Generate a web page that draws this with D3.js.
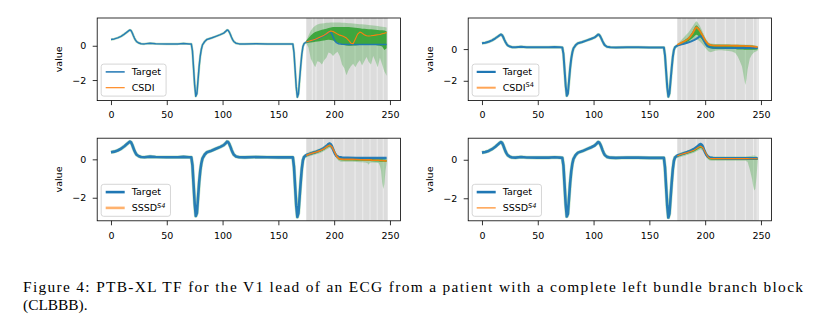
<!DOCTYPE html>
<html>
<head>
<meta charset="utf-8">
<script src="https://cdn.jsdelivr.net/npm/d3@7"></script>
<style>
  body { margin: 0; background: #fff; }
  svg text { font-family: "DejaVu Sans", sans-serif; fill: #000; }
  svg .caption { font-family: "Liberation Serif", "DejaVu Serif", serif; }
</style>
</head>
<body>
<div id="figure"></div>
<script>
const FIG_W = 820;
const FIG_H = 322;
const PANEL_W = 303.2;
const PANEL_H = 82.6;
const BLUE = "#1f77b4";
const ORANGE = "#ff7f0e";
const GREEN = "#2ca02c";

const X_DOMAIN = [-12.35, 259.35];
const X_TICKS = [0, 50, 100, 150, 200, 250];
const Y_TICKS = [0, -2];
const MASK_START = 175;
const MASK_END = 248;
const SEAMS_LEFT = [180.4, 183.7, 190.3, 199.2, 208.8, 218.7, 225.6, 232.1, 238.6, 244.0];
const SEAMS_RIGHT = [179, 183.6, 192, 200.5, 209.5, 218, 227, 236, 243.3, 246.6];

// V1 lead, shared ground truth
const TARGET_T = [0, 3, 6, 9, 12, 14, 16, 17, 18, 19, 20, 21, 22, 23, 25, 27, 30, 35, 40, 50, 60, 65, 70, 72,
  73, 74, 75, 76, 77, 78, 79, 80, 81, 82, 84, 86, 90, 94, 98, 101, 103, 104, 105, 106, 107, 108, 109, 110,
  112, 115, 120, 130, 140, 150, 160, 163, 164, 165, 166, 167, 168, 169, 170, 171, 172, 173, 175, 178, 181,
  184, 187, 190, 192, 194, 195, 196, 197, 198, 199, 200, 201, 202, 204, 207, 212, 220, 230, 240, 247];
const TARGET_V = [0.37, 0.40, 0.46, 0.55, 0.68, 0.78, 0.88, 0.92, 0.88, 0.76, 0.60, 0.45, 0.33, 0.24, 0.16, 0.12, 0.11, 0.14, 0.12, 0.11, 0.11, 0.13, 0.11, 0.10,
  -0.30, -1.30, -2.30, -2.95, -2.80, -2.00, -1.20, -0.60, -0.20, 0.05, 0.25, 0.37, 0.45, 0.55, 0.65, 0.74, 0.85, 0.92, 0.90, 0.80, 0.66, 0.50, 0.36, 0.25,
  0.15, 0.11, 0.10, 0.12, 0.11, 0.10, 0.10, 0.10, -0.40, -1.40, -2.40, -3.00, -2.80, -2.00, -1.20, -0.50, -0.05, 0.12, 0.22, 0.28, 0.34,
  0.40, 0.47, 0.56, 0.64, 0.74, 0.80, 0.82, 0.78, 0.68, 0.52, 0.38, 0.26, 0.18, 0.12, 0.09, 0.08, 0.07, 0.07, 0.07, 0.07];

// CSDI
const CSDI_T = [175, 177, 179, 181, 183, 185, 187, 189, 191, 193, 195, 197, 199, 201, 203, 205, 207, 209, 211, 213, 215,
  217, 219, 221, 223, 225, 227, 229, 231, 233, 235, 237, 239, 241, 243, 245, 247];
const CSDI_MED = [0.22, 0.26, 0.30, 0.34, 0.38, 0.44, 0.50, 0.56, 0.62, 0.70, 0.80, 0.86, 0.83, 0.76, 0.68, 0.62, 0.58, 0.52, 0.45, 0.32, 0.15,
  0.12, 0.40, 0.68, 0.80, 0.74, 0.64, 0.58, 0.57, 0.58, 0.60, 0.62, 0.64, 0.66, 0.70, 0.73, 0.78];
const CSDI_Q25 = [0.15, 0.17, 0.19, 0.21, 0.23, 0.25, 0.27, 0.29, 0.31, 0.33, 0.35, 0.33, 0.30, 0.24, 0.18, 0.13, 0.08, 0.05, 0.02, 0.00, 0.00,
  0.01, 0.02, 0.03, 0.05, 0.05, 0.05, 0.05, 0.05, 0.05, 0.05, 0.04, 0.02, 0.00, -0.05, -0.25, -0.15];
const CSDI_Q75 = [0.30, 0.45, 0.60, 0.72, 0.80, 0.85, 0.89, 0.93, 0.96, 1.00, 1.04, 1.07, 1.10, 1.10, 1.10, 1.10, 1.10, 1.10, 1.10, 1.09, 1.08,
  1.07, 1.05, 1.04, 1.02, 1.00, 0.99, 0.98, 0.97, 0.96, 0.95, 0.94, 0.92, 0.91, 0.90, 0.89, 0.85];
const CSDI_Q05 = [0.15, -0.10, -0.75, -1.00, -1.25, -0.90, -0.95, -1.10, -0.85, -0.70, -0.40, -0.45, -0.60, -0.45, -0.35, -0.60, -1.10, -1.30, -1.72, -1.40, -1.20,
  -1.05, -1.25, -1.00, -0.85, -1.15, -0.90, -0.65, -0.95, -1.10, -0.60, -0.90, -1.25, -0.70, -1.10, -1.50, -1.75];
const CSDI_Q95 = [0.29, 0.60, 0.87, 1.05, 1.17, 1.24, 1.28, 1.30, 1.32, 1.34, 1.35, 1.36, 1.36, 1.36, 1.36, 1.36, 1.35, 1.34, 1.33, 1.32, 1.31,
  1.30, 1.28, 1.27, 1.26, 1.25, 1.24, 1.22, 1.21, 1.20, 1.18, 1.17, 1.15, 1.13, 1.11, 1.09, 1.07];

// CSDI^S4
const CSDIS4_T = [175, 177, 179, 181, 183, 185, 187, 189, 191, 192, 193, 195, 197, 199, 201, 203, 205, 207, 209, 212, 215,
  218, 221, 224, 227, 229, 231, 233, 234, 235, 236, 237, 238, 240, 242, 244, 247];
const CSDIS4_MED = [0.27, 0.34, 0.41, 0.48, 0.56, 0.66, 0.82, 1.02, 1.28, 1.38, 1.34, 1.18, 0.94, 0.68, 0.45, 0.30, 0.25, 0.23, 0.22, 0.22, 0.22,
  0.22, 0.22, 0.22, 0.21, 0.21, 0.20, 0.20, 0.20, 0.20, 0.19, 0.19, 0.19, 0.18, 0.17, 0.16, 0.12];
const CSDIS4_Q25 = [0.22, 0.28, 0.33, 0.38, 0.43, 0.50, 0.60, 0.72, 0.85, 0.90, 0.88, 0.78, 0.62, 0.42, 0.22, 0.10, 0.05, 0.02, 0.00, 0.00, 0.00,
  0.00, 0.00, 0.00, 0.00, -0.02, -0.02, -0.03, -0.03, -0.04, -0.05, -0.05, -0.05, -0.05, -0.05, -0.05, -0.02];
const CSDIS4_Q75 = [0.30, 0.38, 0.46, 0.54, 0.63, 0.74, 0.92, 1.14, 1.42, 1.50, 1.46, 1.30, 1.05, 0.78, 0.52, 0.35, 0.30, 0.28, 0.27, 0.27, 0.27,
  0.27, 0.27, 0.26, 0.26, 0.26, 0.25, 0.25, 0.25, 0.25, 0.24, 0.24, 0.24, 0.23, 0.22, 0.20, 0.15];
const CSDIS4_Q05 = [0.15, 0.20, 0.25, 0.30, 0.35, 0.42, 0.50, 0.55, 0.60, 0.62, 0.60, 0.50, 0.35, 0.18, 0.00, -0.15, -0.20, -0.15, -0.10, -0.08, -0.08,
  -0.10, -0.12, -0.15, -0.25, -0.45, -0.75, -1.10, -1.50, -1.90, -2.27, -1.90, -1.30, -0.60, -0.35, -0.20, -0.10];
const CSDIS4_Q95 = [0.32, 0.45, 0.60, 0.75, 0.90, 1.05, 1.25, 1.45, 1.68, 1.75, 1.70, 1.50, 1.20, 0.88, 0.60, 0.42, 0.35, 0.33, 0.32, 0.32, 0.31,
  0.31, 0.31, 0.30, 0.30, 0.30, 0.30, 0.29, 0.29, 0.29, 0.28, 0.28, 0.28, 0.27, 0.26, 0.25, 0.20];

// SSSD^S4, first run
const SSSD_A_T = [175, 178, 181, 184, 187, 190, 192, 194, 196, 198, 200, 202, 204, 206, 209, 212, 216, 220, 224, 228, 230,
  231, 232, 234, 238, 240, 241, 242, 243, 244, 245, 246, 247];
const SSSD_A_MED = [0.20, 0.28, 0.33, 0.38, 0.44, 0.52, 0.60, 0.68, 0.74, 0.65, 0.42, 0.18, 0.05, 0.01, 0.00, 0.00, 0.00, -0.01, -0.02, -0.03, -0.03,
  -0.03, -0.03, -0.04, -0.05, -0.05, -0.06, -0.06, -0.06, -0.07, -0.07, -0.08, -0.08];
const SSSD_A_Q25 = [0.15, 0.22, 0.27, 0.32, 0.38, 0.46, 0.54, 0.61, 0.67, 0.58, 0.35, 0.12, -0.01, -0.05, -0.06, -0.06, -0.06, -0.07, -0.08, -0.09, -0.09,
  -0.09, -0.09, -0.10, -0.11, -0.11, -0.12, -0.12, -0.12, -0.13, -0.13, -0.14, -0.14];
const SSSD_A_Q75 = [0.25, 0.34, 0.39, 0.44, 0.50, 0.58, 0.66, 0.75, 0.81, 0.72, 0.49, 0.24, 0.11, 0.07, 0.06, 0.06, 0.06, 0.05, 0.04, 0.03, 0.03,
  0.03, 0.03, 0.02, 0.01, 0.01, 0.00, 0.00, 0.00, -0.01, -0.01, -0.02, -0.02];
const SSSD_A_Q05 = [0.10, 0.16, 0.21, 0.26, 0.32, 0.40, 0.47, 0.54, 0.60, 0.50, 0.28, 0.05, -0.08, -0.12, -0.13, -0.13, -0.13, -0.14, -0.15, -0.16, -0.20,
  -0.28, -0.18, -0.17, -0.18, -0.20, -0.35, -0.60, -1.20, -1.55, -1.30, -0.60, -0.20];
const SSSD_A_Q95 = [0.30, 0.40, 0.45, 0.50, 0.56, 0.65, 0.74, 0.83, 0.89, 0.80, 0.56, 0.30, 0.17, 0.13, 0.12, 0.12, 0.12, 0.11, 0.10, 0.09, 0.09,
  0.09, 0.09, 0.08, 0.07, 0.07, 0.06, 0.06, 0.06, 0.05, 0.05, 0.04, 0.04];

// SSSD^S4, second run
const SSSD_B_T = [175, 178, 181, 184, 187, 190, 192, 194, 196, 198, 200, 202, 204, 206, 209, 212, 216, 220, 224, 228, 232,
  236, 238, 240, 241, 242, 243, 244, 245, 246, 247];
const SSSD_B_MED = [0.20, 0.27, 0.32, 0.37, 0.43, 0.50, 0.57, 0.65, 0.70, 0.62, 0.40, 0.18, 0.08, 0.06, 0.06, 0.06, 0.06, 0.06, 0.06, 0.06, 0.06,
  0.06, 0.06, 0.05, 0.05, 0.05, 0.05, 0.05, 0.05, 0.05, 0.05];
const SSSD_B_Q25 = [0.15, 0.21, 0.26, 0.31, 0.37, 0.43, 0.50, 0.57, 0.62, 0.54, 0.32, 0.11, 0.02, 0.00, 0.00, 0.00, 0.00, 0.00, 0.00, 0.00, 0.00,
  0.00, -0.01, -0.01, -0.01, -0.01, -0.01, -0.01, -0.01, -0.01, -0.01];
const SSSD_B_Q75 = [0.25, 0.33, 0.38, 0.43, 0.49, 0.57, 0.64, 0.72, 0.77, 0.69, 0.47, 0.25, 0.14, 0.12, 0.12, 0.12, 0.12, 0.12, 0.12, 0.12, 0.12,
  0.12, 0.12, 0.11, 0.11, 0.11, 0.11, 0.11, 0.11, 0.11, 0.11];
const SSSD_B_Q05 = [0.10, 0.15, 0.20, 0.25, 0.31, 0.37, 0.43, 0.50, 0.55, 0.46, 0.25, 0.04, -0.04, -0.05, -0.05, -0.05, -0.05, -0.05, -0.05, -0.05, -0.05,
  -0.05, -0.10, -0.50, -0.75, -1.00, -1.35, -1.60, -1.50, -0.90, -0.10];
const SSSD_B_Q95 = [0.30, 0.38, 0.43, 0.48, 0.55, 0.63, 0.71, 0.79, 0.84, 0.76, 0.54, 0.32, 0.20, 0.17, 0.17, 0.17, 0.17, 0.17, 0.17, 0.17, 0.17,
  0.17, 0.18, 0.19, 0.20, 0.21, 0.22, 0.22, 0.21, 0.18, 0.14];

const PANELS = [
  { left: 97.2, top: 18, yDomain: [-3.2, 1.62], name: "CSDI", sup: null, supItalic: false, seams: SEAMS_LEFT,
    t: CSDI_T, med: CSDI_MED, q05: CSDI_Q05, q25: CSDI_Q25, q75: CSDI_Q75, q95: CSDI_Q95,
    blueW: 1.5, orangeW: 1.1, orangeOp: 1, legBlueW: 1.5, legOrangeW: 1.1, legOrangeOp: 1 },
  { left: 468.2, top: 18, yDomain: [-3.25, 1.96], name: "CSDI", sup: "S4", supItalic: false, seams: SEAMS_RIGHT,
    t: CSDIS4_T, med: CSDIS4_MED, q05: CSDIS4_Q05, q25: CSDIS4_Q25, q75: CSDIS4_Q75, q95: CSDIS4_Q95,
    blueW: 2, orangeW: 1.8, orangeOp: 0.9, legBlueW: 2.2, legOrangeW: 2, legOrangeOp: 0.7 },
  { left: 97.2, top: 138.2, yDomain: [-3.2, 1.1], name: "SSSD", sup: "S4", supItalic: true, seams: SEAMS_LEFT,
    t: SSSD_A_T, med: SSSD_A_MED, q05: SSSD_A_Q05, q25: SSSD_A_Q25, q75: SSSD_A_Q75, q95: SSSD_A_Q95,
    blueW: 2.6, orangeW: 1.6, orangeOp: 0.9, legBlueW: 2.6, legOrangeW: 2.6, legOrangeOp: 0.6 },
  { left: 468.2, top: 138.2, yDomain: [-3.17, 1.12], name: "SSSD", sup: "S4", supItalic: true, seams: SEAMS_RIGHT,
    t: SSSD_B_T, med: SSSD_B_MED, q05: SSSD_B_Q05, q25: SSSD_B_Q25, q75: SSSD_B_Q75, q95: SSSD_B_Q95,
    blueW: 2.6, orangeW: 1.1, orangeOp: 1, legBlueW: 2.6, legOrangeW: 1.1, legOrangeOp: 1 }
];

const CAPTION = [
  "Figure 4: PTB-XL TF for the V1 lead of an ECG from a patient with a complete left bundle branch block",
  "(CLBBB)."
];

const svg = d3.select("#figure").append("svg")
  .attr("width", FIG_W)
  .attr("height", FIG_H);

const target = TARGET_T.map((t, k) => ({ t: t, v: TARGET_V[k] }));

PANELS.forEach((p, i) => {
  const x = d3.scaleLinear().domain(X_DOMAIN).range([0, PANEL_W]);
  const y = d3.scaleLinear().domain(p.yDomain).range([PANEL_H, 0]);

  const g = svg.append("g").attr("transform", `translate(${p.left},${p.top})`);
  g.append("clipPath").attr("id", `clip-${i}`)
    .append("rect").attr("width", PANEL_W).attr("height", PANEL_H);
  const plot = g.append("g").attr("clip-path", `url(#clip-${i})`);

  // masked window, drawn as adjoining spans
  plot.append("rect")
    .attr("x", x(MASK_START))
    .attr("width", x(MASK_END) - x(MASK_START))
    .attr("height", PANEL_H)
    .attr("fill", "#dcdcdc");
  plot.selectAll(".seam")
    .data(p.seams)
    .join("line")
    .attr("class", "seam")
    .attr("x1", d => x(d)).attr("x2", d => x(d))
    .attr("y1", 0).attr("y2", PANEL_H)
    .attr("stroke", "#efefef")
    .attr("stroke-width", 0.9);

  const rows = p.t.map((t, k) => ({
    t: t, med: p.med[k], q05: p.q05[k], q25: p.q25[k], q75: p.q75[k], q95: p.q95[k]
  }));
  const band = (lo, hi) => d3.area().x(d => x(d.t)).y0(d => y(d[lo])).y1(d => y(d[hi]));

  plot.append("path").datum(rows)
    .attr("d", band("q05", "q95"))
    .attr("fill", GREEN).attr("fill-opacity", 0.3);
  plot.append("path").datum(rows)
    .attr("d", band("q25", "q75"))
    .attr("fill", GREEN).attr("fill-opacity", 0.85);

  const line = d3.line().x(d => x(d.t)).y(d => y(d.v));

  // thin green spread around the conditioned part
  plot.append("path").datum(target.filter(d => d.t <= MASK_START))
    .attr("d", line)
    .attr("fill", "none")
    .attr("stroke", GREEN)
    .attr("stroke-opacity", 0.3)
    .attr("stroke-width", p.blueW + 1)
    .attr("stroke-linejoin", "round");

  plot.append("path").datum(target)
    .attr("d", line)
    .attr("fill", "none")
    .attr("stroke", BLUE)
    .attr("stroke-opacity", 0.95)
    .attr("stroke-width", p.blueW)
    .attr("stroke-linejoin", "round");

  plot.append("path").datum(rows)
    .attr("d", d3.line().x(d => x(d.t)).y(d => y(d.med)))
    .attr("fill", "none")
    .attr("stroke", ORANGE)
    .attr("stroke-opacity", p.orangeOp)
    .attr("stroke-width", p.orangeW)
    .attr("stroke-linejoin", "round");

  // axes
  const xAxis = g.append("g")
    .attr("transform", `translate(0,${PANEL_H})`)
    .call(d3.axisBottom(x).tickValues(X_TICKS).tickSize(4.5).tickPadding(6.5));
  const yAxis = g.append("g")
    .call(d3.axisLeft(y).tickValues(Y_TICKS).tickFormat(d3.format("d")).tickSize(4.5).tickPadding(6.5));
  [xAxis, yAxis].forEach(a => {
    a.select(".domain").remove();
    a.selectAll("line").attr("stroke", "#000").attr("stroke-width", 0.8);
    a.selectAll("text").style("font-size", "9.5px").style("font-family", "DejaVu Sans");
  });

  g.append("rect")
    .attr("width", PANEL_W).attr("height", PANEL_H)
    .attr("fill", "none").attr("stroke", "#000").attr("stroke-width", 0.8);

  g.append("text")
    .attr("transform", `translate(-35.5,${PANEL_H / 2}) rotate(-90)`)
    .attr("text-anchor", "middle")
    .style("font-size", "9.5px")
    .text("value");

  // legend, lower left
  const leg = g.append("g").attr("transform", `translate(4,${PANEL_H - 4.5 - 32})`);
  const box = leg.append("rect")
    .attr("height", 32).attr("rx", 2.5)
    .attr("fill", "#fff").attr("fill-opacity", 0.8)
    .attr("stroke", "#cccccc").attr("stroke-width", 0.8);
  const entries = [
    { color: BLUE, w: p.legBlueW, op: 1, name: "Target", sup: null },
    { color: ORANGE, w: p.legOrangeW, op: p.legOrangeOp, name: p.name, sup: p.sup }
  ];
  let maxW = 0;
  entries.forEach((e, k) => {
    const cy = 7.8 + k * 15.8;
    leg.append("line")
      .attr("x1", 4.5).attr("x2", 23.5)
      .attr("y1", cy).attr("y2", cy)
      .attr("stroke", e.color).attr("stroke-width", e.w).attr("stroke-opacity", e.op);
    const txt = leg.append("text")
      .attr("x", 30.5).attr("y", cy + 3.4)
      .style("font-size", "9.5px");
    txt.append("tspan").text(e.name);
    if (e.sup) {
      txt.append("tspan")
        .attr("dy", -3.6)
        .style("font-size", "6.6px")
        .style("font-style", p.supItalic ? "italic" : "normal")
        .text(e.sup);
    }
    maxW = Math.max(maxW, txt.node().getComputedTextLength());
  });
  box.attr("width", 30.5 + maxW + 5);
});

svg.selectAll(".caption")
  .data(CAPTION)
  .join("text")
  .attr("class", "caption")
  .attr("x", 23)
  .attr("y", (d, i) => 292 + i * 18)
  .attr("textLength", (d, i) => i === 0 ? 780 : null)
  .attr("lengthAdjust", "spacing")
  .style("font-size", "15.4px")
  .text(d => d);
</script>
</body>
</html>
